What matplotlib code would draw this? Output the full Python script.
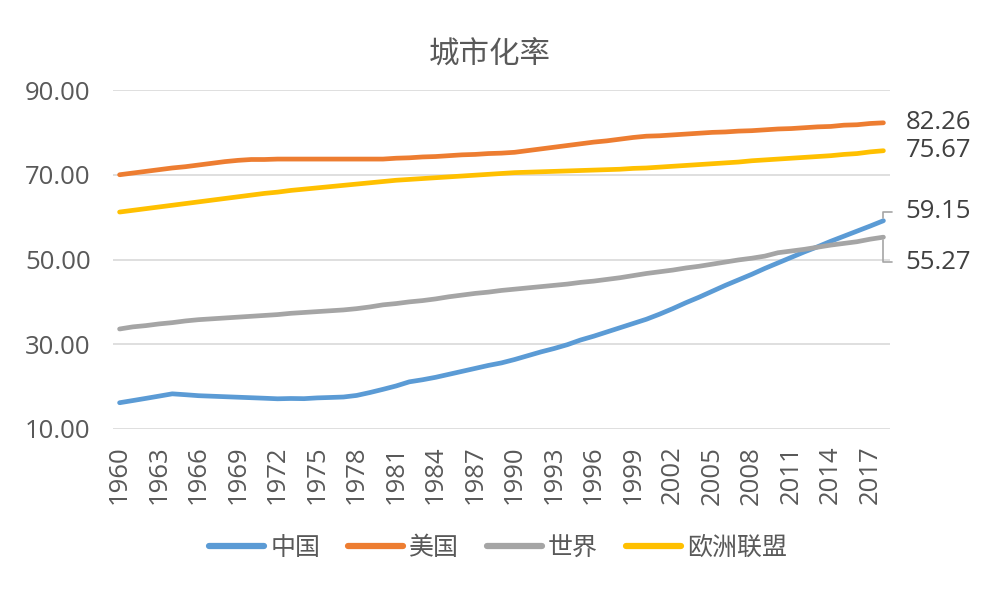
import matplotlib
matplotlib.use("Agg")
import matplotlib.pyplot as plt
import numpy as np

plt.rcParams['font.family'] = ['Noto Sans CJK SC', 'DejaVu Sans']
NUM_FONT = ['Open Sans', 'Noto Sans CJK SC']

years = list(range(1960, 2019))

china = [16.20, 16.71, 17.23, 17.76, 18.30, 18.09, 17.86, 17.74, 17.62, 17.50,
         17.38, 17.26, 17.13, 17.20, 17.16, 17.34, 17.44, 17.55, 17.92, 18.60,
         19.36, 20.16, 21.13, 21.62, 22.20, 22.90, 23.60, 24.30, 25.00, 25.60,
         26.40, 27.30, 28.20, 29.00, 29.90, 31.00, 31.90, 32.90, 33.90, 34.90,
         35.90, 37.10, 38.40, 39.80, 41.10, 42.50, 43.90, 45.20, 46.50, 47.90,
         49.20, 50.50, 51.80, 53.00, 54.30, 55.50, 56.70, 57.90, 59.15]

usa = [70.0, 70.4, 70.8, 71.2, 71.6, 71.9, 72.3, 72.7, 73.1, 73.4,
       73.6, 73.6, 73.7, 73.7, 73.7, 73.7, 73.7, 73.7, 73.7, 73.7,
       73.7, 73.9, 74.0, 74.2, 74.3, 74.5, 74.7, 74.8, 75.0, 75.1,
       75.3, 75.7, 76.1, 76.5, 76.9, 77.3, 77.7, 78.0, 78.4, 78.8,
       79.1, 79.2, 79.4, 79.6, 79.8, 80.0, 80.1, 80.3, 80.4, 80.6,
       80.8, 80.9, 81.1, 81.3, 81.4, 81.7, 81.8, 82.1, 82.26]

world = [33.6, 34.1, 34.4, 34.8, 35.1, 35.5, 35.8, 36.0, 36.2, 36.4,
         36.6, 36.8, 37.0, 37.3, 37.5, 37.7, 37.9, 38.1, 38.4, 38.8,
         39.3, 39.6, 40.0, 40.3, 40.7, 41.2, 41.6, 42.0, 42.3, 42.7,
         43.0, 43.3, 43.6, 43.9, 44.2, 44.6, 44.9, 45.3, 45.7, 46.2,
         46.7, 47.1, 47.5, 48.0, 48.4, 48.9, 49.4, 49.9, 50.3, 50.8,
         51.6, 52.0, 52.4, 52.9, 53.4, 53.8, 54.2, 54.8, 55.27]

eu = [61.2, 61.6, 62.0, 62.4, 62.8, 63.2, 63.6, 64.0, 64.4, 64.8,
      65.2, 65.6, 65.9, 66.3, 66.6, 66.9, 67.2, 67.5, 67.8, 68.1,
      68.4, 68.7, 68.9, 69.1, 69.3, 69.5, 69.7, 69.9, 70.1, 70.3,
      70.5, 70.6, 70.7, 70.8, 70.9, 71.0, 71.1, 71.2, 71.3, 71.5,
      71.6, 71.8, 72.0, 72.2, 72.4, 72.6, 72.8, 73.0, 73.3, 73.5,
      73.7, 73.9, 74.1, 74.3, 74.5, 74.8, 75.0, 75.4, 75.67]

series_names = ['中国', '美国', '世界', '欧洲联盟']
colors = ['#5B9BD5', '#ED7D31', '#A5A5A5', '#FFC000']
yticks = [10, 30, 50, 70, 90]
xtick_years = list(range(1960, 2019, 3))
title = '城市化率'

text_color = '#595959'

fig = plt.figure(figsize=(10.06, 6.15), dpi=100)
ax = fig.add_axes([113/1006, 1-429/615, 777/1006, 339/615])

data = [china, usa, world, eu]
lines = []
for vals, name, c in zip(data, series_names, colors):
    ln, = ax.plot(years, vals, color=c, lw=3.4, label=name,
                  solid_capstyle='round', solid_joinstyle='round', zorder=3)
    lines.append(ln)

ax.set_xlim(1960 - 0.5, 2018 + 0.5)
ax.set_ylim(10, 90)
ax.set_yticks(yticks)
ax.set_yticklabels([f'{v:.2f}' for v in yticks], fontsize=18.5,
                   color=text_color, family=NUM_FONT)
ax.set_xticks(xtick_years)
ax.set_xticklabels([str(y) for y in xtick_years], rotation=90, fontsize=18.5,
                   color=text_color, family=NUM_FONT)
ax.tick_params(axis='both', length=0)
ax.tick_params(axis='y', pad=16)
ax.tick_params(axis='x', pad=12)
ax.grid(axis='y', color='#D9D9D9', lw=1.2)
for s in ax.spines.values():
    s.set_visible(False)

# end labels
end_offsets = {
    '美国': (22, 0, None),
    '欧洲联盟': (22, 0, None),
    '中国': (22, 9, 'up'),
    '世界': (22, -25, 'down'),
}
for vals, name in zip(data, series_names):
    dx, dy, lead = end_offsets[name]
    kw = {}
    if lead is not None:
        kw['arrowprops'] = dict(arrowstyle='-', color='#A5A5A5', lw=1.2,
                                connectionstyle='angle,angleA=0,angleB=90,rad=0',
                                shrinkA=8, shrinkB=2)
    ax.annotate(f'{vals[-1]:.2f}', xy=(years[-1], vals[-1]),
                xytext=(dx, dy), textcoords='offset pixels',
                ha='left', va='center', fontsize=18.5, color='#404040',
                family=NUM_FONT, annotation_clip=False, **kw)

fig.text(490/1006, 1-55/615, title, ha='center', va='center', fontsize=22,
         color=text_color)

leg = fig.legend(handles=lines, labels=series_names, loc='center',
                 bbox_to_anchor=(498/1006, 1-548/615), ncol=4, frameon=False,
                 fontsize=18, handlelength=2.2, handletextpad=0.25,
                 columnspacing=1.1)
for t in leg.get_texts():
    t.set_color(text_color)
for h in leg.legend_handles:
    h.set_linewidth(4.5)

fig.savefig('out.png', dpi=100)
